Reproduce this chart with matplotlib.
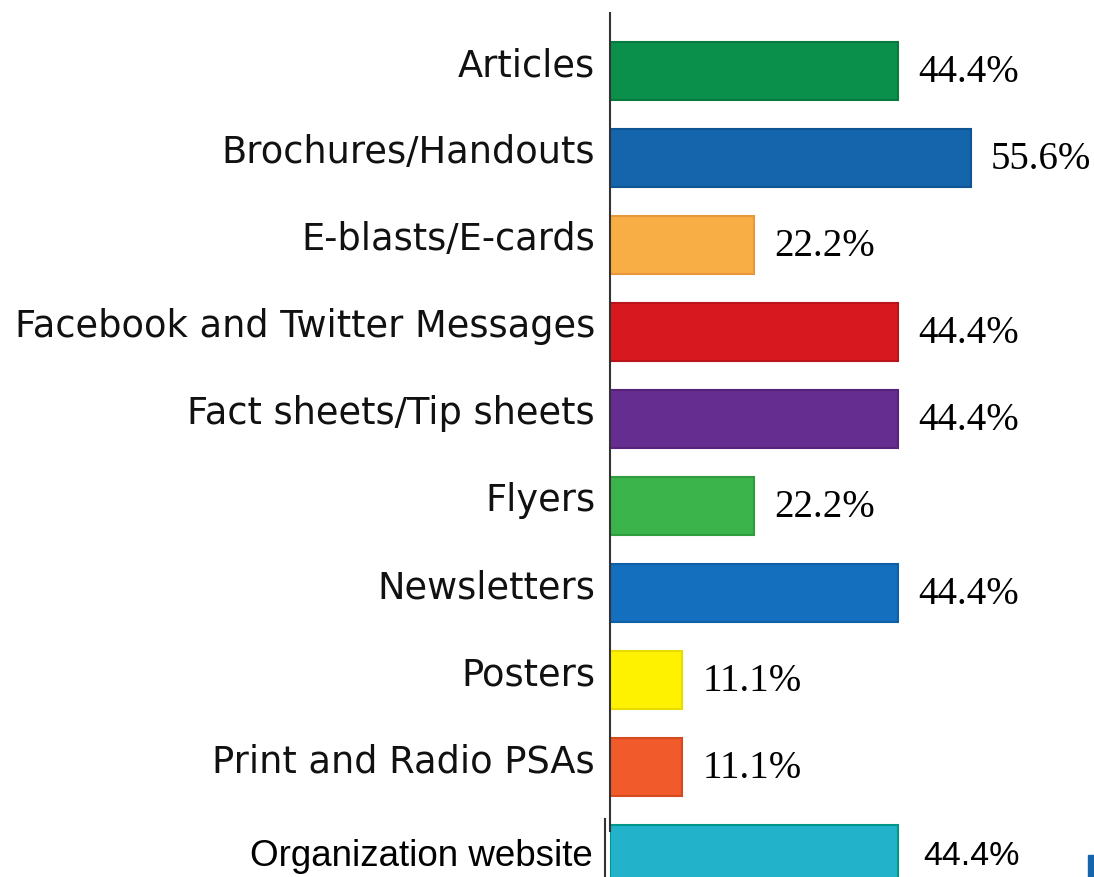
import matplotlib.pyplot as plt
import matplotlib.patches as mpatches

categories = ["Articles", "Brochures/Handouts", "E-blasts/E-cards",
              "Facebook and Twitter Messages", "Fact sheets/Tip sheets",
              "Flyers", "Newsletters", "Posters", "Print and Radio PSAs",
              "Organization website"]
values = [44.4, 55.6, 22.2, 44.4, 44.4, 22.2, 44.4, 11.1, 11.1, 44.4]
colors = ["#0a904a", "#1565ad", "#f9ae45", "#d7191f", "#652d90",
          "#3bb54b", "#1470be", "#fff200", "#f15a2b", "#22b2ca"]
edges = ["#077a3d", "#0f5594", "#e8983a", "#b81419", "#55247a",
         "#2f9c3e", "#0f5fa6", "#e8dc00", "#d44a20", "#00968a"]

W, H = 1094, 877
fig = plt.figure(figsize=(W / 100., H / 100.), dpi=100, facecolor="w")
# axes placed in pixels: axis line at x=610, top at y=13
ax = fig.add_axes([610. / W, 0, (W - 610.) / W, (H - 13.) / H])
px_per_pct = 6.49
ax.set_xlim(0, (W - 610.) / px_per_pct)
ax.set_ylim(9.264, -0.667)

ypos = list(range(len(categories)))
ax.barh(ypos, values, height=0.667, color=colors, edgecolor=edges,
        linewidth=1.5)

for sp in ["top", "right", "bottom", "left"]:
    ax.spines[sp].set_visible(False)
ax.set_xticks([])
ax.set_yticks([])

# vertical axis line (the last row sits slightly offset)
ax.plot([0, 0], [-0.667, 8.73], color="#333333", lw=1.5, clip_on=False)
ax.plot([-0.75, -0.75], [8.6, 9.264], color="#333333", lw=1.5, clip_on=False)

for i, (cat, v) in enumerate(zip(categories, values)):
    if i == len(categories) - 1:
        ax.text(-2.6, i + 0.03, cat, ha="right", va="center", fontsize=26.5,
                family="Liberation Sans")
        ax.text(v + 3.9, i + 0.03, "%.1f%%" % v, ha="left", va="center",
                fontsize=24.5, family="Liberation Sans")
    else:
        ax.text(-2.3, i - 0.06, cat, ha="right", va="center", fontsize=26.5,
                family="DejaVu Sans", color="#111111")
        ax.text(v + 3.1, i + 0.02, "%.1f%%" % v, ha="left", va="center",
                fontsize=28, family="Liberation Serif")

# small blue fragment at the lower right edge
fig.patches.append(mpatches.Rectangle((1088. / W, 0), 6. / W, 22. / H,
                                      transform=fig.transFigure,
                                      color="#1565ad"))

fig.savefig("out.png", dpi=100)
